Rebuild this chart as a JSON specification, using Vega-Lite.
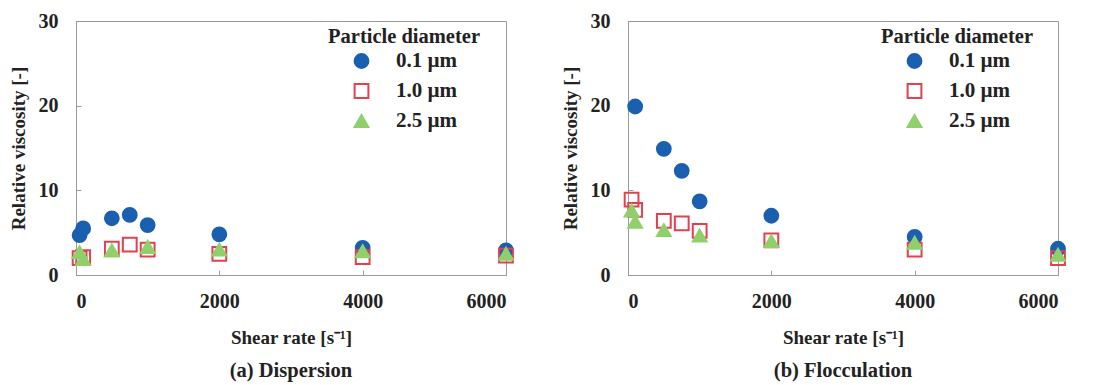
{
  "$schema": "https://vega.github.io/schema/vega-lite/v6.json",
  "background": "white",
  "padding": {"left": 8, "top": 10, "right": 5, "bottom": 2},
  "spacing": 42,
  "config": {
    "font": "Liberation Serif",
    "view": {"stroke": "#9a9a9a", "strokeWidth": 1},
    "axis": {
      "labelFont": "Liberation Serif", "labelFontWeight": "bold", "labelFontSize": 20, "labelColor": "#222",
      "titleFont": "Liberation Serif", "titleFontWeight": "bold", "titleFontSize": 19, "titleColor": "#222",
      "domainColor": "#9a9a9a", "tickColor": "#9a9a9a", "tickSize": -5, "grid": false
    },
    "legend": {
      "titleFont": "Liberation Serif", "titleFontWeight": "bold", "titleFontSize": 20.5, "titleColor": "#222",
      "labelFont": "Liberation Serif", "labelFontWeight": "bold", "labelFontSize": 21, "labelColor": "#222"
    },
    "title": {"font": "Liberation Serif", "fontWeight": "bold", "fontSize": 20.5, "color": "#222"}
  },
  "datasets": {
    "disp": [
      {"rate": 50, "v": 4.7, "d": "0.1 µm"},
      {"rate": 100, "v": 5.5, "d": "0.1 µm"},
      {"rate": 500, "v": 6.7, "d": "0.1 µm"},
      {"rate": 750, "v": 7.1, "d": "0.1 µm"},
      {"rate": 1000, "v": 5.9, "d": "0.1 µm"},
      {"rate": 2000, "v": 4.8, "d": "0.1 µm"},
      {"rate": 4000, "v": 3.2, "d": "0.1 µm"},
      {"rate": 6000, "v": 2.9, "d": "0.1 µm"},
      {"rate": 50, "v": 2.0, "d": "1.0 µm"},
      {"rate": 100, "v": 2.1, "d": "1.0 µm"},
      {"rate": 500, "v": 3.1, "d": "1.0 µm"},
      {"rate": 750, "v": 3.6, "d": "1.0 µm"},
      {"rate": 1000, "v": 3.0, "d": "1.0 µm"},
      {"rate": 2000, "v": 2.5, "d": "1.0 µm"},
      {"rate": 4000, "v": 2.1, "d": "1.0 µm"},
      {"rate": 6000, "v": 2.3, "d": "1.0 µm"},
      {"rate": 50, "v": 2.7, "d": "2.5 µm"},
      {"rate": 100, "v": 1.9, "d": "2.5 µm"},
      {"rate": 500, "v": 2.9, "d": "2.5 µm"},
      {"rate": 1000, "v": 3.3, "d": "2.5 µm"},
      {"rate": 2000, "v": 3.0, "d": "2.5 µm"},
      {"rate": 4000, "v": 2.8, "d": "2.5 µm"},
      {"rate": 6000, "v": 2.5, "d": "2.5 µm"}
    ],
    "floc": [
      {"rate": 100, "v": 19.9, "d": "0.1 µm"},
      {"rate": 500, "v": 14.9, "d": "0.1 µm"},
      {"rate": 750, "v": 12.3, "d": "0.1 µm"},
      {"rate": 1000, "v": 8.7, "d": "0.1 µm"},
      {"rate": 2000, "v": 7.0, "d": "0.1 µm"},
      {"rate": 4000, "v": 4.5, "d": "0.1 µm"},
      {"rate": 6000, "v": 3.1, "d": "0.1 µm"},
      {"rate": 50, "v": 8.9, "d": "1.0 µm"},
      {"rate": 100, "v": 7.7, "d": "1.0 µm"},
      {"rate": 500, "v": 6.4, "d": "1.0 µm"},
      {"rate": 750, "v": 6.1, "d": "1.0 µm"},
      {"rate": 1000, "v": 5.2, "d": "1.0 µm"},
      {"rate": 2000, "v": 4.1, "d": "1.0 µm"},
      {"rate": 4000, "v": 3.0, "d": "1.0 µm"},
      {"rate": 6000, "v": 2.0, "d": "1.0 µm"},
      {"rate": 50, "v": 7.6, "d": "2.5 µm"},
      {"rate": 100, "v": 6.3, "d": "2.5 µm"},
      {"rate": 500, "v": 5.3, "d": "2.5 µm"},
      {"rate": 1000, "v": 4.65, "d": "2.5 µm"},
      {"rate": 2000, "v": 4.0, "d": "2.5 µm"},
      {"rate": 4000, "v": 3.8, "d": "2.5 µm"},
      {"rate": 6000, "v": 2.4, "d": "2.5 µm"}
    ]
  },
  "hconcat": [
    {
      "width": 430, "height": 254,
      "title": {"text": "(a) Dispersion", "orient": "bottom", "offset": 14},
      "data": {"name": "disp"},
      "mark": {"type": "point", "size": 190, "strokeWidth": 2, "opacity": 1},
      "encoding": {
        "x": {"field": "rate", "type": "quantitative", "scale": {"domain": [0, 6000], "nice": false}, "axis": {"values": [0, 2000, 4000, 6000], "format": "d", "labelPadding": 21, "title": "Shear rate [s⁻¹]", "titlePadding": 17}},
        "y": {"field": "v", "type": "quantitative", "scale": {"domain": [0, 30], "nice": false}, "axis": {"values": [0, 10, 20, 30], "labelPadding": 23, "title": "Relative viscosity [-]", "titlePadding": 10}},
        "shape": {"field": "d", "type": "nominal", "scale": {"domain": ["0.1 µm", "1.0 µm", "2.5 µm"], "range": ["circle", "square", "triangle-up"]}, "legend": {"title": "Particle diameter", "orient": "none", "legendX": 252, "legendY": 6, "titleAnchor": "middle", "titlePadding": 3, "symbolSize": 190, "symbolStrokeWidth": 2, "labelOffset": 24, "rowPadding": 7, "padding": 0}},
        "fill": {"field": "d", "type": "nominal", "scale": {"domain": ["0.1 µm", "1.0 µm", "2.5 µm"], "range": ["#1a5fb0", "transparent", "#8fd06b"]}, "legend": {"title": "Particle diameter", "orient": "none", "legendX": 252, "legendY": 6}},
        "stroke": {"field": "d", "type": "nominal", "scale": {"domain": ["0.1 µm", "1.0 µm", "2.5 µm"], "range": ["#1a5fb0", "#e2404f", "#8fd06b"]}, "legend": {"title": "Particle diameter", "orient": "none", "legendX": 252, "legendY": 6}},
        "order": {"field": "d", "type": "nominal"}
      }
    },
    {
      "width": 430, "height": 254,
      "title": {"text": "(b) Flocculation", "orient": "bottom", "offset": 14},
      "data": {"name": "floc"},
      "mark": {"type": "point", "size": 190, "strokeWidth": 2, "opacity": 1},
      "encoding": {
        "x": {"field": "rate", "type": "quantitative", "scale": {"domain": [0, 6000], "nice": false}, "axis": {"values": [0, 2000, 4000, 6000], "format": "d", "labelPadding": 21, "title": "Shear rate [s⁻¹]", "titlePadding": 17}},
        "y": {"field": "v", "type": "quantitative", "scale": {"domain": [0, 30], "nice": false}, "axis": {"values": [0, 10, 20, 30], "labelPadding": 23, "title": "Relative viscosity [-]", "titlePadding": 10}},
        "shape": {"field": "d", "type": "nominal", "scale": {"domain": ["0.1 µm", "1.0 µm", "2.5 µm"], "range": ["circle", "square", "triangle-up"]}, "legend": {"title": "Particle diameter", "orient": "none", "legendX": 253, "legendY": 6, "titleAnchor": "middle", "titlePadding": 3, "symbolSize": 190, "symbolStrokeWidth": 2, "labelOffset": 24, "rowPadding": 7, "padding": 0}},
        "fill": {"field": "d", "type": "nominal", "scale": {"domain": ["0.1 µm", "1.0 µm", "2.5 µm"], "range": ["#1a5fb0", "transparent", "#8fd06b"]}, "legend": {"title": "Particle diameter", "orient": "none", "legendX": 253, "legendY": 6}},
        "stroke": {"field": "d", "type": "nominal", "scale": {"domain": ["0.1 µm", "1.0 µm", "2.5 µm"], "range": ["#1a5fb0", "#e2404f", "#8fd06b"]}, "legend": {"title": "Particle diameter", "orient": "none", "legendX": 253, "legendY": 6}},
        "order": {"field": "d", "type": "nominal"}
      }
    }
  ],
  "resolve": {
    "scale": {"shape": "independent", "fill": "independent", "stroke": "independent"},
    "legend": {"shape": "independent", "fill": "independent", "stroke": "independent"}
  }
}
